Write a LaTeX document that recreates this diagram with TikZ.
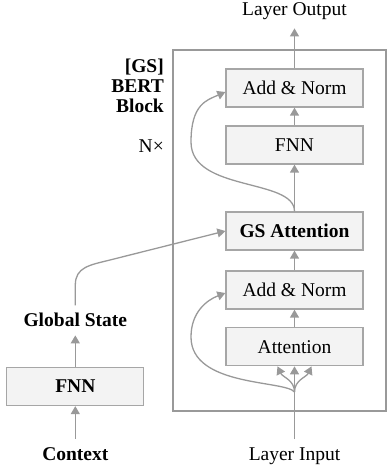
\documentclass[tikz,border=0pt]{standalone}
\usepackage{fontspec}
\setmainfont{Liberation Serif}
\usetikzlibrary{arrows.meta}
\definecolor{boxfill}{HTML}{F3F3F3}
\definecolor{boxline}{HTML}{A6A6A6}
\definecolor{wiregray}{HTML}{999999}
\begin{document}
\fontsize{19.5}{20}\selectfont
\begin{tikzpicture}[x=1pt,y=1pt]
    \tikzstyle{layer}=[draw=boxline,fill=boxfill,line width=1.3pt,minimum width=137pt,minimum height=38pt,inner sep=0pt]
    \tikzstyle{txt}=[inner sep=8pt,anchor=base]
    \tikzstyle{wireline}=[draw=wiregray,line width=1.3pt]
    \tikzstyle{arr}=[wireline,-{Triangle[length=8pt,width=9pt]}]

    \useasboundingbox (0,0) rectangle (387,472);
    \draw[draw=wiregray,line width=2pt] (173,61) rectangle (386,422);

    %\node[txt,font=\bfseries] at (164,401) (blk) {[GS] BERT Block};
    \node[layer] at (294.5,384) (an2) {Add \& Norm};
    \node[layer] at (294.5,327) (fnn2) {FNN};
    \node[layer,font=\bfseries] at (294.5,241) (gsa) {GS Attention};
    \node[layer] at (294.5,182) (an1) {Add \& Norm};
    \node[layer] at (294.5,125.3) (att) {Attention};
    \node[layer,font=\bfseries] at (75.3,85.5) (fnn1) {FNN};

    \node[txt] at (294.5,456) (outp) {Layer Output};
    \node[txt] at (294.5,12) (inp) {Layer Input};
    \node[txt,font=\bfseries] at (75.3,12) (ctx) {Context};
    \node[txt,font=\bfseries] at (75.3,145) (gs) {Global State};
    \node[inner sep=0pt,font=\bfseries,align=right,anchor=north east] at (164,413) (blk) {[GS]\\BERT\\Block};
    \node[txt,anchor=base east,inner sep=0pt] at (164,319) (nx) {N×};

    \coordinate (jlow) at (294.5,80);

    % left side
    \draw[arr] (ctx.north) -- (fnn1.south);
    \draw[arr] (fnn1.north) -- (gs.south);
    \draw[arr] (gs.north) -- (75.3,187) .. controls (75.3,205) and (90,207) .. (110,212) -- (gsa.west);

    % block
    \draw[wireline] (inp.north) -- (jlow);
    \draw[arr] (jlow) -- (att.south);
    \draw[arr] (jlow) to[out=90,in=-65] ([xshift=-17pt]att.south);
    \draw[arr] (jlow) to[out=90,in=-115] ([xshift=17pt]att.south);
    \draw[arr] (jlow) .. controls (285,92) and (191,85) .. (191,135) .. controls (191,160) and (207,172) .. ([yshift=-3pt]an1.west);
    \draw[arr] (att.north) -- (an1.south);
    \draw[arr] (an1.north) -- (gsa.south);
    \draw[arr] (gsa.north) -- (fnn2.south);
    \draw[arr] (gsa.north) .. controls (294.5,294) and (191,280) .. (191,330) .. controls (191,368) and (207,372) .. ([yshift=-4pt]an2.west);
    \draw[arr] (fnn2.north) -- (an2.south);
    \draw[arr] (an2.north) -- (outp.south);
\end{tikzpicture}
\end{document}
